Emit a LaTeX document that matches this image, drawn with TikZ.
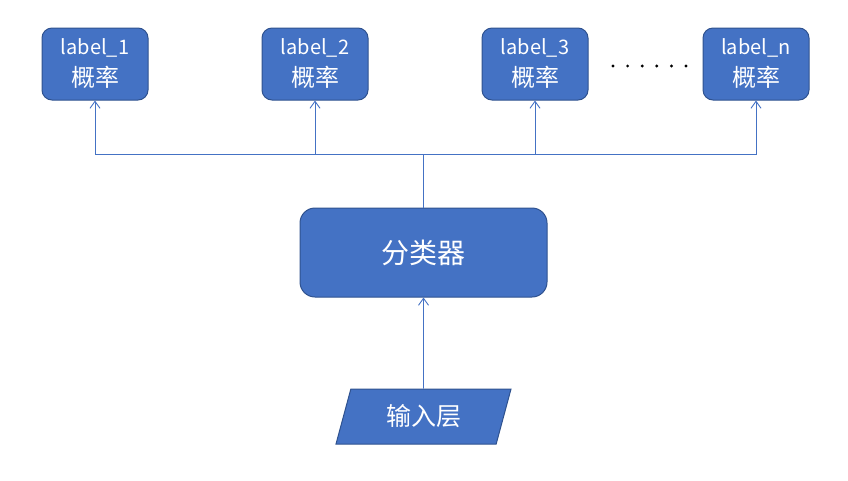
\documentclass[tikz,border=0pt]{standalone}
\usepackage{fontspec}
\setmainfont{Noto Sans CJK SC}
\usetikzlibrary{arrows.meta, positioning, shapes.geometric}
\definecolor{boxfill}{HTML}{4472C4}
\definecolor{boxline}{HTML}{2F528F}
\newcommand{\zhbig}[1]{{\fontsize{24}{26}\selectfont #1}}

\begin{document}
\begin{tikzpicture}[x=1pt, y=-1pt,
    prob/.style={rectangle, rounded corners=10pt, draw=boxline, line width=1pt, fill=boxfill, text=white,
        minimum width=106pt, minimum height=72pt, align=center, inner sep=0pt,
        font=\fontsize{20}{26}\selectfont},
    classifier/.style={rectangle, rounded corners=15pt, draw=boxline, line width=1pt, fill=boxfill, text=white,
        minimum width=247pt, minimum height=89pt, inner sep=0pt, font=\fontsize{28}{32}\selectfont},
    inputbox/.style={trapezium, trapezium left angle=57.5, trapezium right angle=122.5, draw=boxline, line width=1pt,
        fill=boxfill, text=white, minimum width=175pt, minimum height=55pt, inner sep=0pt,
        trapezium stretches body, font=\fontsize{25}{30}\selectfont},
    link/.style={draw=boxfill, line width=0.9pt},
    edge/.style={link, -{Straight Barb[length=7pt, width=10pt]}}
]
\useasboundingbox (0,0) rectangle (848,480);

% Top: label probabilities
\node[prob] (lbl1) at (95,64) {label\_1\\[6pt]\zhbig{概率}};
\node[prob] (lbl2) at (315,64) {label\_2\\[6pt]\zhbig{概率}};
\node[prob] (lbl3) at (535,64) {label\_3\\[6pt]\zhbig{概率}};
\node[prob] (lbln) at (756,64) {label\_n\\[6pt]\zhbig{概率}};

% Dots between label_3 and label_n
\foreach \i in {0,...,5}
    \fill[black] (613+\i*14.6, 66) circle (1.6pt);

% Classifier and input
\node[classifier] (cls) at (423.5,252.5) {分类器};
\node[inputbox] (inp) at (423.5,416.5) {输入层};

% Connectors
\coordinate (bus) at (cls.north |- 0,154);
\draw[edge] (inp.north) -- (cls.south);
\draw[link] (cls.north) -- (bus);
\draw[edge] (bus) -| (lbl1.south);
\draw[edge] (bus) -| (lbl2.south);
\draw[edge] (bus) -| (lbl3.south);
\draw[edge] (bus) -| (lbln.south);

\end{tikzpicture}
\end{document}
